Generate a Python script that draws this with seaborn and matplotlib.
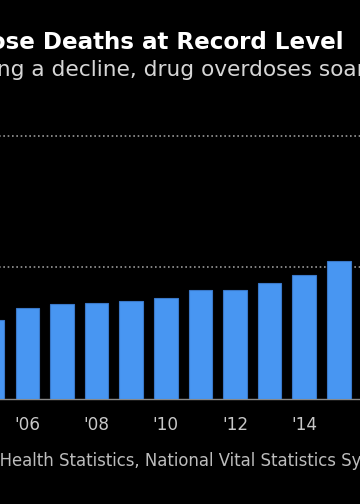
import matplotlib
matplotlib.use("Agg")
import matplotlib.pyplot as plt
import seaborn as sns

# US drug overdose deaths per year
years = ["2005", "2006", "2007", "2008", "2009", "2010",
         "2011", "2012", "2013", "2014", "2015"]
deaths = [29813, 34425, 36010, 36450, 37004, 38329,
          41340, 41502, 43982, 47055, 52404]
tick_years = ["2006", "2008", "2010", "2012", "2014"]
tick_labels = ["'06", "'08", "'10", "'12", "'14"]
grid_values = [50000, 100000]

title = "Overdose Deaths at Record Level"
subtitle = "After showing a decline, drug overdoses soared"
source = ("Source: Centers for Disease Control and Prevention, National Center for "
          "Health Statistics, National Vital Statistics System")

sns.set_style("dark")
plt.rcParams["font.family"] = ["DejaVu Sans"]

W, H = 360, 504
fig = plt.figure(figsize=(W / 100, H / 100), dpi=100, facecolor="black")

# the chart is a crop of a wider one, so the axes run past the figure edges
step = 34.61
left_px = -7.31 - 0.5 * step
base_px = 398.7
px_per_10k = 26.27
ax = fig.add_axes([left_px / W, (H - base_px) / H,
                   12 * step / W, 11 * px_per_10k / H])
ax.set_facecolor("black")

sns.barplot(x=years, y=deaths, color="#4896f2", saturation=1, width=0.68,
            edgecolor="#3a78c8", linewidth=0.8, ax=ax, zorder=3)

ax.set_xlim(-0.5, 11.5)
ax.set_ylim(0, 110000)
for v in grid_values:
    ax.axhline(v, color="#8e8e8e", linewidth=1.3, linestyle=(0, (0.9, 1.5)), zorder=1)

ax.set_xticks([years.index(y) for y in tick_years])
ax.set_xticklabels(tick_labels)
ax.set_yticks([])
ax.tick_params(axis="x", colors="#8a8a8a", length=5, width=1, pad=7.5,
               labelsize=12.2, labelcolor="#c8c8c8")
ax.grid(False)
for s in ["top", "right", "left"]:
    ax.spines[s].set_visible(False)
ax.spines["bottom"].set_color("#8a8a8a")
ax.spines["bottom"].set_linewidth(1)
ax.set_xlabel("")
ax.set_ylabel("")

renderer = fig.canvas.get_renderer()


def place_cropped(text, suffix, target_px, y_px, **kw):
    # put `text` so that `suffix` starts at target_px (pixels from left)
    t1 = fig.text(0, 0, text, **kw)
    t2 = fig.text(0, 0, suffix, **kw)
    w_full = t1.get_window_extent(renderer).width
    w_suf = t2.get_window_extent(renderer).width
    t1.remove()
    t2.remove()
    x = target_px - (w_full - w_suf)
    fig.text(x / W, (H - y_px) / H, text, va="baseline", ha="left", **kw)


fig.text(344 / W, (H - 49.3) / H, title, ha="right", va="baseline",
         fontsize=16.6, fontweight="bold", color="white")
place_cropped(subtitle, "decline, drug overdoses soared", 52, 76.5,
              fontsize=15.6, color="#d6d6d6")
place_cropped(source, "Health Statistics, National Vital Statistics System", 0, 466,
              fontsize=11.9, color="#bdbdbd")

fig.savefig("out.png", dpi=100, facecolor="black")
